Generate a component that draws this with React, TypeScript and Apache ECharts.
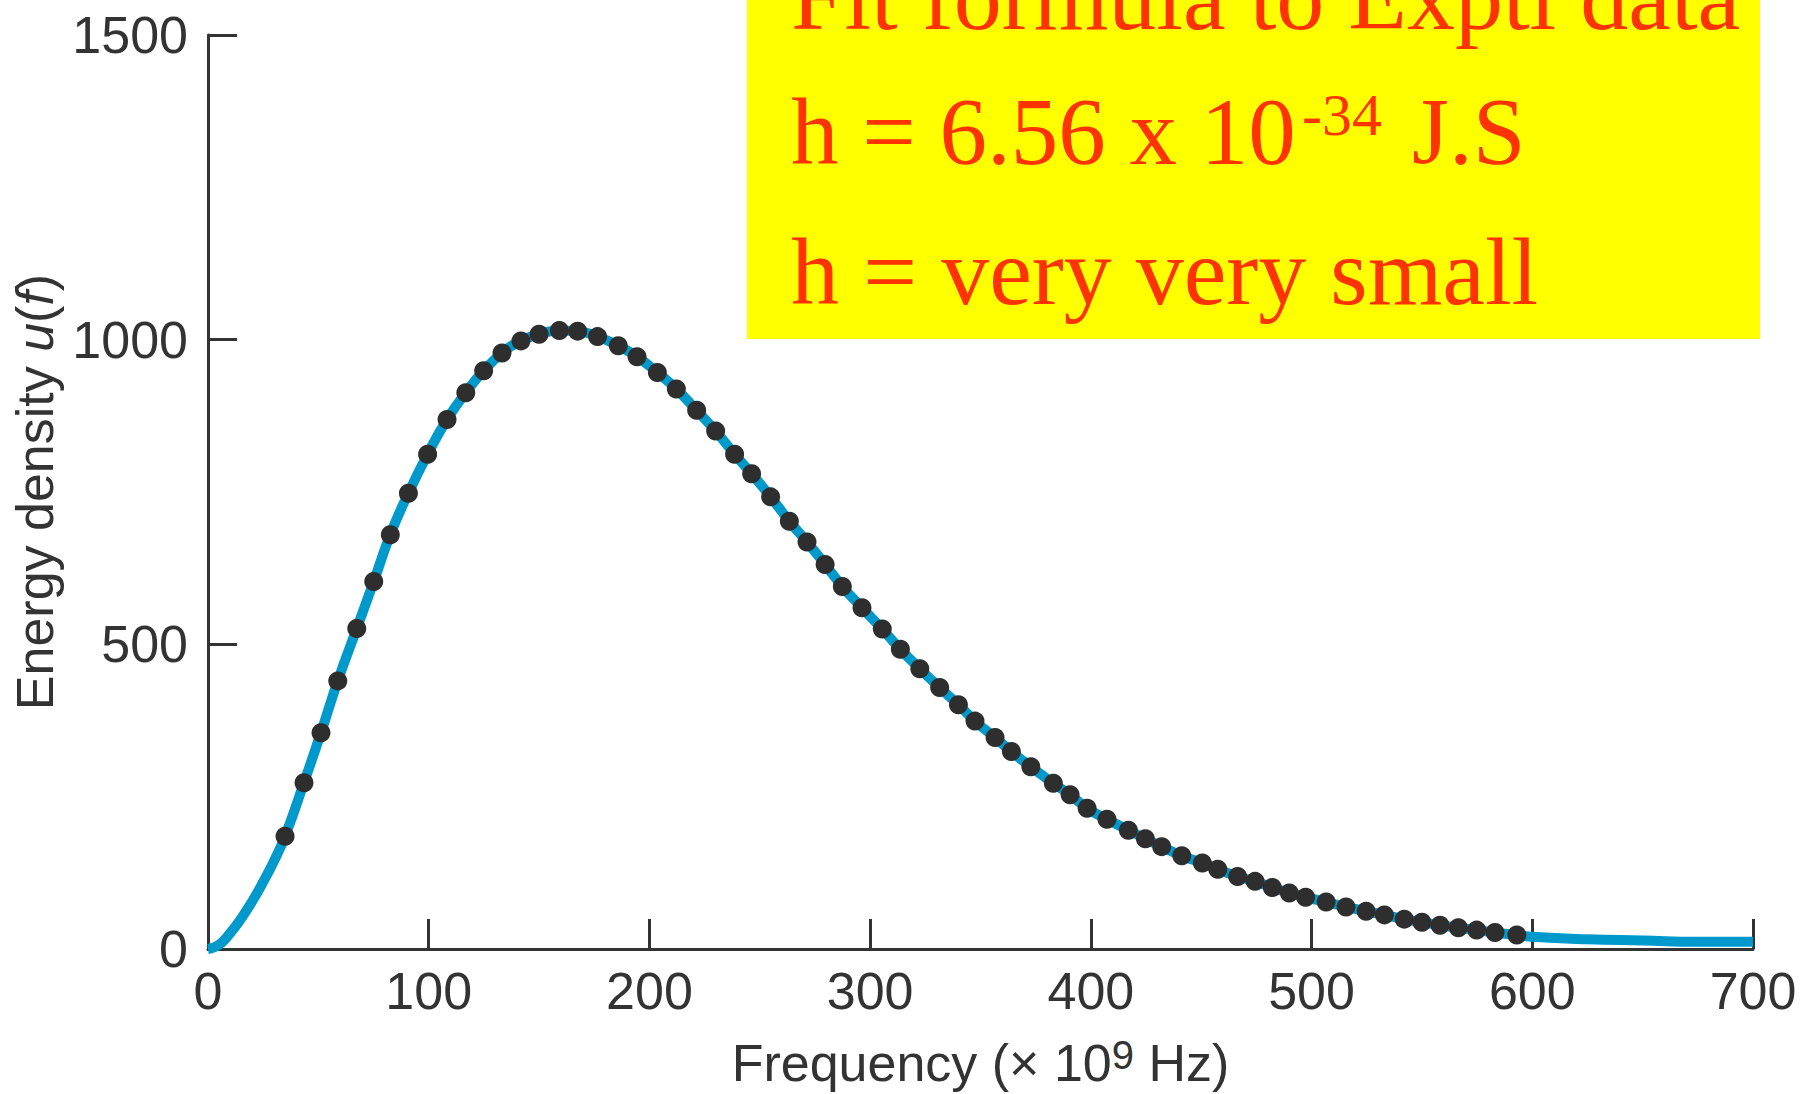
import React, { useEffect, useRef } from "react";
import * as echarts from "echarts";

// Axis ticks
const xTickInterval = 100;
const xMax = 700;
const yTickInterval = 500;
const yMax = 1500;

// Measured data points (frequency ×10^9 Hz, energy density)
const dotFreq = [
  34.9, 43.5, 51.2, 58.8, 67.4, 75.1, 82.6, 90.8, 99.5, 108.3, 116.8, 124.9, 133.2, 141.8, 150, 159.2,
  167.5, 176.5, 185.9, 194.4, 203.6, 212.2, 221.4, 230, 238.6, 246.3, 254.9, 263.4, 271.4, 279.6, 287.4,
  296.3, 305.5, 313.7, 322.5, 331.5, 340, 347.5, 356.6, 364, 372.8, 383, 390.6, 398.3, 407.3, 417, 424.7,
  432.1, 441.2, 450.5, 457.5, 466.5, 474.4, 482.2, 489.9, 497.3, 506.6, 515.6, 524.7, 533, 542, 550,
  558.2, 566.5, 574.8, 583.1, 593,
];
const dotDensity = [
  185, 273, 355, 440, 526, 603, 680, 748, 812, 869, 913, 949, 978, 998, 1009, 1015,
  1014, 1005, 990, 972, 946, 919, 884, 850, 812, 780, 742, 702, 668, 631, 595,
  560, 525, 492, 460, 429, 401, 374, 347, 324, 299, 272, 253, 231, 213, 195, 181,
  168, 153, 141, 131, 119, 111, 101, 92, 85, 77, 69, 62, 56, 49, 44,
  39, 35, 31, 27, 23,
];

// Fitted curve outside the data range
const curveHeadFreq = [0, 5, 10, 15, 20, 25, 30];
const curveHeadDensity = [0, 7, 26, 50, 78, 110, 145];
const curveTailFreq = [600, 625, 650, 675, 700];
const curveTailDensity = [20, 16, 14, 12, 12];

// Annotation texts
const noteLine1 = "Fit formula to Exptl data";
const noteLine2a = "h = 6.56 x 10";
const noteLine2sup = "-34";
const noteLine2b = "J.S";
const noteLine3 = "h = very very small";

const SANS = "'Liberation Sans', Arial, Helvetica, sans-serif";
const SERIF = "'Liberation Serif', 'Times New Roman', serif";
const INK = "#333333";
const RED = "#FF3300";

export default function App() {
  const ref = useRef<HTMLDivElement>(null);

  useEffect(() => {
    const chart = echarts.init(ref.current as HTMLDivElement, null, { renderer: "svg" });

    const dots = dotFreq.map((f, i) => [f, dotDensity[i]]);
    const curve = [
      ...curveHeadFreq.map((f, i) => [f, curveHeadDensity[i]]),
      ...dots,
      ...curveTailFreq.map((f, i) => [f, curveTailDensity[i]]),
    ];

    chart.setOption({
      animation: false,
      backgroundColor: "#ffffff",
      grid: {
        left: 208,
        top: 35,
        width: 1545,
        height: 914,
        containLabel: false,
        outerBoundsMode: "none",
      },
      xAxis: {
        type: "value",
        min: 0,
        max: xMax,
        interval: xTickInterval,
        splitLine: { show: false },
        axisLine: { show: true, lineStyle: { color: INK, width: 3 } },
        axisTick: { show: true, inside: true, length: 30, lineStyle: { color: INK, width: 3 } },
        axisLabel: { fontSize: 52, color: INK, fontFamily: SANS, margin: 16, formatter: (v: number) => String(v) },
        name: "Frequency (× 10{sup|9} Hz)",
        nameLocation: "middle",
        nameGap: 86,
        nameTextStyle: {
          fontSize: 52,
          color: INK,
          fontFamily: SANS,
          lineHeight: 56,
          rich: {
            sup: { fontSize: 40, color: INK, fontFamily: SANS, verticalAlign: "top", lineHeight: 30 },
          },
        },
      },
      yAxis: {
        type: "value",
        min: 0,
        max: yMax,
        interval: yTickInterval,
        splitLine: { show: false },
        axisLine: { show: true, lineStyle: { color: INK, width: 3 } },
        axisTick: { show: true, inside: true, length: 29, lineStyle: { color: INK, width: 3 } },
        axisLabel: { fontSize: 52, color: INK, fontFamily: SANS, margin: 20, formatter: (v: number) => String(v) },
        name: "Energy density {it|u}({it|f})",
        nameLocation: "middle",
        nameRotate: 90,
        nameGap: 137,
        nameTextStyle: {
          fontSize: 52,
          color: INK,
          fontFamily: SANS,
          rich: {
            it: { fontSize: 52, color: INK, fontFamily: SANS, fontStyle: "italic" },
          },
        },
      },
      series: [
        {
          type: "line",
          data: curve,
          smooth: true,
          showSymbol: false,
          lineStyle: { color: "#0099CC", width: 10 },
          z: 2,
        },
        {
          type: "scatter",
          data: dots,
          symbol: "circle",
          symbolSize: 19,
          itemStyle: { color: "#2e2e2e", opacity: 1 },
          z: 3,
        },
      ],
      graphic: [
        {
          type: "rect",
          shape: { x: 747, y: 0, width: 1013, height: 339 },
          style: { fill: "#FFFF00" },
          z: 10,
        },
        {
          type: "text",
          x: 791,
          y: -4,
          z: 11,
          style: { text: noteLine1, fill: RED, fontSize: 96, fontFamily: SERIF, textAlign: "left", verticalAlign: "middle" },
        },
        {
          type: "text",
          x: 791,
          y: 132,
          z: 11,
          style: { text: noteLine2a, fill: RED, fontSize: 95, fontFamily: SERIF, textAlign: "left", verticalAlign: "middle" },
        },
        {
          type: "text",
          x: 1302,
          y: 115,
          z: 11,
          style: { text: noteLine2sup, fill: RED, fontSize: 60, fontFamily: SERIF, textAlign: "left", verticalAlign: "middle" },
        },
        {
          type: "text",
          x: 1412,
          y: 132,
          z: 11,
          style: { text: noteLine2b, fill: RED, fontSize: 95, fontFamily: SERIF, textAlign: "left", verticalAlign: "middle" },
        },
        {
          type: "text",
          x: 791,
          y: 271,
          z: 11,
          style: { text: noteLine3, fill: RED, fontSize: 96, fontFamily: SERIF, textAlign: "left", verticalAlign: "middle" },
        },
      ],
    });

    return () => chart.dispose();
  }, []);

  return (
    <div
      ref={ref}
      style={{ position: "absolute", left: 0, top: 0, width: 1808, height: 1094, background: "#ffffff" }}
    />
  );
}
